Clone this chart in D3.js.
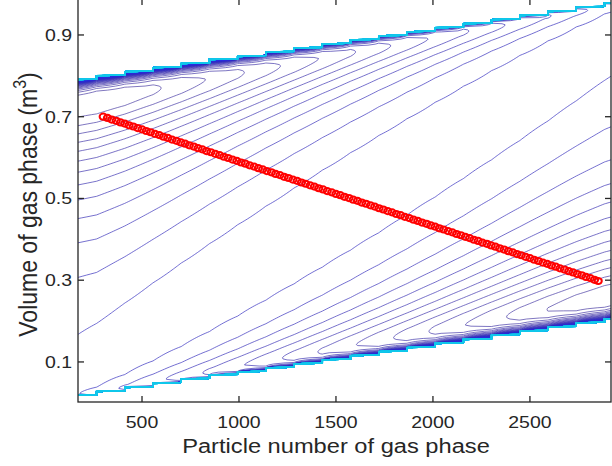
<!DOCTYPE html>
<html>
<head>
<meta charset="utf-8">
<script src="https://cdn.jsdelivr.net/npm/d3@7"></script>
<style>
  body { margin: 0; background: #fff; }
  svg { display: block; font-family: "Liberation Sans", Arial, sans-serif; }
</style>
</head>
<body>
<div id="chart"></div>
<script>
// model behind the contour field (van der Waals gas/liquid split, kT = 1)
const nTotal = 3200;
const bExcl = 6.8e-5;
const tRed = 0.6;
const aAttr = 27 * bExcl / (8 * tRed);

const xTicks = [500, 1000, 1500, 2000, 2500];
const yTicks = [0.1, 0.3, 0.5, 0.7, 0.9];
const xDomain = [170, 2918];
const yDomain = [0.002, 0.988];

// contour levels: spaced so that the flat ridge falls half-way between two levels
const levelsBelowRidge = 13.5;
const levelsAboveRidge = 160;

// red markers along the tie line
const markerN = [300, 322, 344, 367, 389, 411, 433, 455, 478, 500, 522, 544, 567, 589, 611, 633, 655, 678, 700, 722,
  744, 767, 789, 811, 833, 855, 878, 900, 922, 944, 967, 989, 1011, 1033, 1055, 1078, 1100, 1122, 1144, 1167,
  1189, 1211, 1233, 1255, 1278, 1300, 1322, 1344, 1367, 1389, 1411, 1433, 1455, 1478, 1500, 1522, 1544, 1567, 1589, 1611,
  1633, 1655, 1678, 1700, 1722, 1744, 1767, 1789, 1811, 1833, 1855, 1878, 1900, 1922, 1944, 1967, 1989, 2011, 2033, 2055,
  2078, 2100, 2122, 2144, 2167, 2189, 2211, 2233, 2255, 2278, 2300, 2322, 2344, 2367, 2389, 2411, 2433, 2455, 2478, 2500,
  2522, 2544, 2567, 2589, 2611, 2633, 2655, 2678, 2700, 2722, 2744, 2767, 2789, 2811, 2833, 2852];
const markerV = [0.700, 0.697, 0.693, 0.690, 0.686, 0.683, 0.679, 0.676, 0.672, 0.669, 0.665, 0.662, 0.658, 0.655, 0.651, 0.648, 0.644, 0.641, 0.637, 0.634,
  0.630, 0.627, 0.623, 0.620, 0.616, 0.613, 0.609, 0.606, 0.602, 0.599, 0.595, 0.592, 0.588, 0.585, 0.581, 0.578, 0.574, 0.571, 0.567, 0.564,
  0.560, 0.557, 0.553, 0.550, 0.546, 0.543, 0.539, 0.536, 0.532, 0.529, 0.525, 0.522, 0.518, 0.515, 0.511, 0.508, 0.504, 0.501, 0.497, 0.494,
  0.490, 0.487, 0.483, 0.480, 0.476, 0.473, 0.469, 0.466, 0.462, 0.459, 0.455, 0.452, 0.448, 0.445, 0.441, 0.438, 0.434, 0.431, 0.427, 0.424,
  0.420, 0.417, 0.413, 0.410, 0.406, 0.403, 0.399, 0.396, 0.392, 0.389, 0.385, 0.382, 0.378, 0.375, 0.371, 0.368, 0.364, 0.361, 0.357, 0.354,
  0.350, 0.347, 0.343, 0.340, 0.336, 0.333, 0.329, 0.326, 0.322, 0.319, 0.315, 0.312, 0.308, 0.305, 0.301, 0.298];

function fHelm(n, v) {
  if (n <= 0) return 0;
  const free = v - bExcl * n;
  if (free <= 0) return NaN;
  return n * (Math.log(n / free) - 1) - aAttr * n * n / v;
}

// sampling grid, coarse in N (this gives the stepped edges)
const nCols = 23, nRows = 401;
const nStep = nTotal / (nCols - 1), nOffset = -25, vStep = 1 / (nRows - 1);
const field = new Array(nCols * nRows);
let gMin = Infinity;
for (let j = 0; j < nRows; j++) {
  for (let i = 0; i < nCols; i++) {
    const n = nOffset + i * nStep, v = j * vStep;
    const g = fHelm(n, v) + fHelm(nTotal - n, 1 - v);
    field[j * nCols + i] = isFinite(g) ? g : Infinity;
    if (isFinite(g) && g < gMin) gMin = g;
  }
}
const gRidge = 2 * fHelm(nTotal / 2, 0.5);
const levelStep = (gRidge - gMin) / levelsBelowRidge;
const levels = d3.range(-Math.floor(levelsBelowRidge), levelsAboveRidge)
  .map(k => gRidge + (k + 0.5) * levelStep);

const width = 612, height = 466;
const margin = { top: -1, right: 1, bottom: 64, left: 78 };
const stretch = 1.16;

const svg = d3.select("#chart").append("svg")
  .attr("width", width)
  .attr("height", height);

const x = d3.scaleLinear().domain(xDomain).range([margin.left, width - margin.right]);
const y = d3.scaleLinear().domain(yDomain).range([height - margin.bottom, margin.top]);

svg.append("clipPath").attr("id", "plot-clip")
  .append("rect")
  .attr("x", margin.left).attr("y", margin.top)
  .attr("width", width - margin.right - margin.left)
  .attr("height", height - margin.bottom - margin.top);

const color = d3.scaleLinear()
  .domain([0, 0.12, 0.55, 1])
  .range(["#2b1c94", "#2a2ad8", "#2240f2", "#10c8ea"])
  .interpolate(d3.interpolateRgb);

const contours = d3.contours().size([nCols, nRows]).thresholds(levels)(field);

const toData = ([cx, cy]) => [x(nOffset + (cx - 0.5) * nStep), y((cy - 0.5) * vStep)];
const path = d3.line();

const contourG = svg.append("g").attr("clip-path", "url(#plot-clip)");
contours.forEach((c, k) => {
  const frac = k / (levels.length - 1);
  const d = c.coordinates.map(poly => poly.map(ring => path(ring.map(toData)) + "Z").join("")).join("");
  contourG.append("path")
    .attr("d", d)
    .attr("fill", "none")
    .attr("stroke", color(frac))
    .attr("stroke-width", 0.6 + 0.9 * frac);
});

svg.append("g").attr("clip-path", "url(#plot-clip)")
  .selectAll("ellipse")
  .data(markerN.map((n, i) => [n, markerV[i]]))
  .join("ellipse")
  .attr("cx", d => x(d[0]))
  .attr("cy", d => y(d[1]))
  .attr("rx", 3.6)
  .attr("ry", 3.1)
  .attr("fill", "none")
  .attr("stroke", "#ff0000")
  .attr("stroke-width", 2);

// box axes, ticks inside
const axisColor = "#262626";
const x0 = margin.left, x1 = width - margin.right;
const y0 = height - margin.bottom, y1 = margin.top;
const axes = svg.append("g").attr("stroke", axisColor).attr("stroke-width", 1.3);
axes.append("rect").attr("x", x0).attr("y", y1).attr("width", x1 - x0).attr("height", y0 - y1).attr("fill", "none");
xTicks.forEach(t => {
  axes.append("line").attr("x1", x(t)).attr("x2", x(t)).attr("y1", y0).attr("y2", y0 - 6);
  axes.append("line").attr("x1", x(t)).attr("x2", x(t)).attr("y1", y1).attr("y2", y1 + 6);
});
yTicks.forEach(t => {
  axes.append("line").attr("x1", x0).attr("x2", x0 + 6).attr("y1", y(t)).attr("y2", y(t));
  axes.append("line").attr("x1", x1).attr("x2", x1 - 6).attr("y1", y(t)).attr("y2", y(t));
});

svg.append("g").selectAll("text")
  .data(xTicks)
  .join("text")
  .attr("transform", d => `translate(${x(d)},${y0 + 25.5}) scale(${stretch},1)`)
  .attr("text-anchor", "middle")
  .style("font-size", "16.8px")
  .attr("fill", axisColor)
  .text(d => d);

svg.append("g").selectAll("text")
  .data(yTicks)
  .join("text")
  .attr("transform", d => `translate(${x0 - 6},${y(d) + 6}) scale(${stretch},1)`)
  .attr("text-anchor", "end")
  .style("font-size", "16.8px")
  .attr("fill", axisColor)
  .text(d => d);

svg.append("text")
  .attr("transform", `translate(336,${y0 + 51}) scale(${stretch},1)`)
  .attr("text-anchor", "middle")
  .style("font-size", "20.4px")
  .attr("fill", axisColor)
  .text("Particle number of gas phase");

const yl = svg.append("text")
  .attr("transform", `translate(36.5,${(y0 + y1) / 2 + 4}) scale(${stretch},1) rotate(-90)`)
  .attr("text-anchor", "middle")
  .style("font-size", "23px")
  .attr("fill", axisColor);
yl.append("tspan").text("Volume of gas phase (m");
yl.append("tspan").attr("dy", -9).style("font-size", "16px").text("3");
yl.append("tspan").attr("dy", 9).text(")");
</script>
</body>
</html>
